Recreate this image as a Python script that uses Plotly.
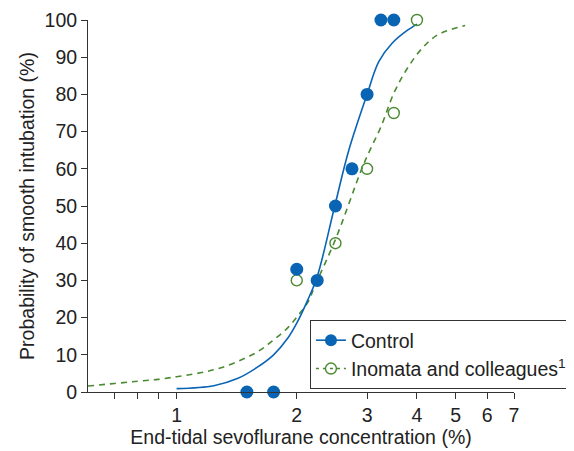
import plotly.graph_objects as go

# Observed data points
control_x = [1.5, 1.75, 2.0, 2.25, 2.5, 2.75, 3.0, 3.25, 3.5]
control_y = [0, 0, 33, 30, 50, 60, 80, 100, 100]
inomata_x = [2.0, 2.5, 3.0, 3.5, 4.0]
inomata_y = [30, 40, 60, 75, 100]

# Fitted curves
control_fit_x = [1.0, 1.24, 1.42, 1.59, 1.75, 1.9, 2.0, 2.13, 2.25, 2.49, 2.70, 3.0, 3.21, 3.47, 3.76, 4.0]
control_fit_y = [0.9, 1.7, 3.6, 6.6, 10, 14.5, 18.5, 24.7, 31, 50, 65, 80, 88.8, 93.8, 97, 98.9]
inomata_fit_x = [0.6, 0.7, 0.8, 0.9, 1.0, 1.1, 1.2, 1.3, 1.45, 1.6, 1.75, 1.9, 2.03, 2.13, 2.23,
                 2.5, 2.91, 3.05, 3.25, 3.51, 3.81, 4.17, 4.54, 5.28]
inomata_fit_y = [1.6, 2.3, 2.9, 3.4, 4.1, 4.8, 5.6, 6.6, 8.6, 10.9, 14.0, 17.3, 21, 24, 29,
                 41, 60, 65, 71.3, 80.6, 87.5, 93, 96.2, 98.5]

x_tickvals = [1, 2, 3, 4, 5, 6, 7]
x_ticktext = ["1", "2", "3", "4", "5", "6", "7"]
x_minor_vals = [0.7, 0.8, 0.9]
y_tickvals = list(range(0, 101, 10))

BLUE = "#0a64b4"
GREEN = "#4a8a30"
AX = "#333333"
FS = 19.5

fig = go.Figure()
fig.add_trace(go.Scatter(x=inomata_fit_x, y=inomata_fit_y, mode="lines",
                         line=dict(color=GREEN, width=1.6, dash="6px,5px", shape="spline", smoothing=1.0),
                         showlegend=False, hoverinfo="skip"))
fig.add_trace(go.Scatter(x=control_fit_x, y=control_fit_y, mode="lines",
                         line=dict(color=BLUE, width=1.6, shape="spline", smoothing=1.0),
                         showlegend=False, hoverinfo="skip"))
fig.add_trace(go.Scatter(x=inomata_x, y=inomata_y, mode="markers",
                         marker=dict(symbol="circle-open", size=11, color=GREEN, line=dict(width=1.4, color=GREEN)),
                         showlegend=False, cliponaxis=False))
fig.add_trace(go.Scatter(x=control_x, y=control_y, mode="markers",
                         marker=dict(symbol="circle", size=13, color=BLUE),
                         showlegend=False, cliponaxis=False))
# legend entries
fig.add_trace(go.Scatter(x=[None], y=[None], mode="lines+markers", name="Control",
                         line=dict(color=BLUE, width=1.6),
                         marker=dict(symbol="circle", size=12, color=BLUE)))
fig.add_trace(go.Scatter(x=[None], y=[None], mode="lines+markers", name="Inomata and colleagues<sup>1</sup>",
                         line=dict(color=GREEN, width=1.4, dash="3px,4px"),
                         marker=dict(symbol="circle-open", size=11, color=GREEN, line=dict(width=1.4, color=GREEN))))

font = dict(family="Liberation Sans, Arial, sans-serif", size=FS, color="#222222")

# page body has an 8px default margin, so the figure is sized/offset to compensate
fig.update_layout(
    width=566, height=443,
    margin=dict(l=80, r=60, t=12, b=59, autoexpand=False),
    plot_bgcolor="white", paper_bgcolor="white",
    font=font,
    showlegend=True,
    legend=dict(x=0.521, xanchor="left", y=0.1935, yanchor="top",
                bgcolor="white", bordercolor="#333333", borderwidth=1,
                font=font, itemwidth=30, tracegroupgap=0),
    xaxis=dict(type="log", range=[-0.2218, 0.8451],
               tickvals=x_tickvals, ticktext=x_ticktext,
               ticks="outside", ticklen=6, tickcolor=AX, tickwidth=1,
               minor=dict(tickvals=x_minor_vals, ticks="outside", ticklen=6, tickcolor=AX, tickwidth=1, showgrid=False),
               showline=True, linecolor=AX, linewidth=1,
               showgrid=False, zeroline=False,
               title=dict(text="End-tidal sevoflurane concentration (%)", standoff=4, font=font)),
    yaxis=dict(range=[0, 100], tickvals=y_tickvals,
               ticks="outside", ticklen=6, tickcolor=AX, tickwidth=1,
               showline=True, linecolor=AX, linewidth=1,
               showgrid=False, zeroline=False,
               title=dict(text="Probability of smooth intubation (%)", standoff=4, font=font)),
)

fig.write_html("out.html")
